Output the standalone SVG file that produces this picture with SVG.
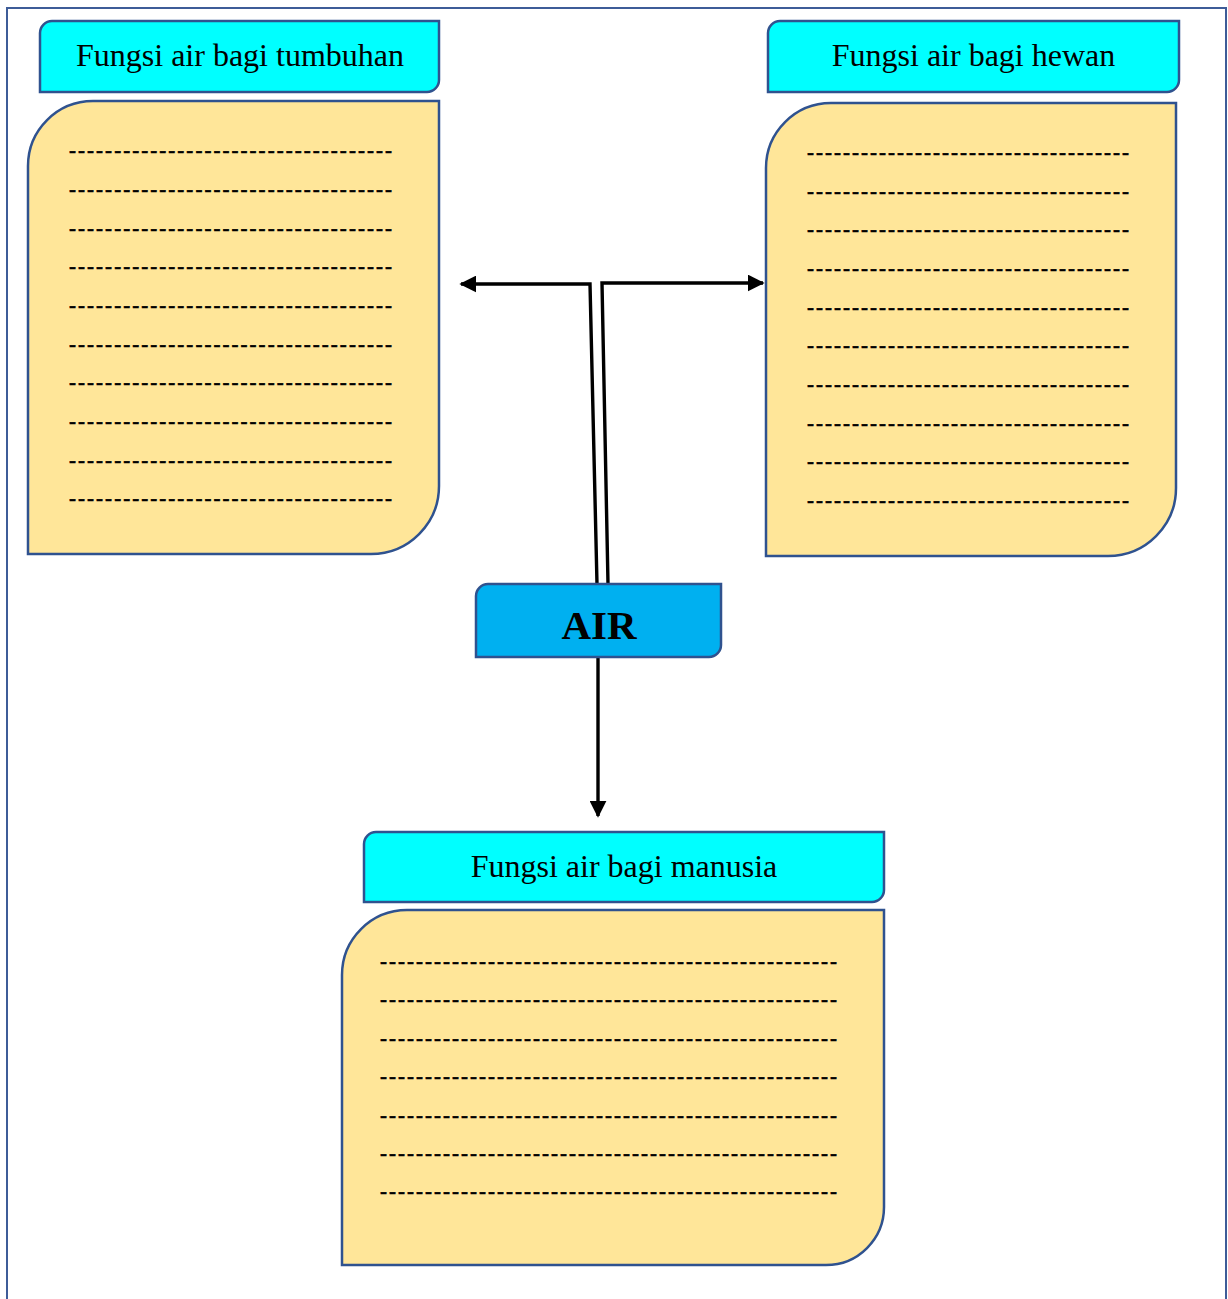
<svg xmlns="http://www.w3.org/2000/svg" width="1228" height="1299" viewBox="0 0 1228 1299">
<style>
.frame{fill:none;stroke:#3E5C98;stroke-width:2}
.hdr{fill:#00FFFF;stroke:#2F528F;stroke-width:2.5}
.body{fill:#FFE699;stroke:#2F528F;stroke-width:2.5}
.air{fill:#00B0F0;stroke:#2F528F;stroke-width:2.5}
.ht{font-family:"Liberation Serif","Times New Roman",serif;font-size:32px;fill:#000;text-anchor:middle}
.at{font-family:"Liberation Serif","Times New Roman",serif;font-size:41px;font-weight:bold;fill:#000;text-anchor:middle}
.dl{font-family:"Liberation Serif","Times New Roman",serif;font-size:21px;font-weight:bold;fill:#000;stroke:#000;stroke-width:0.5}
.con{fill:none;stroke:#000;stroke-width:3.4}
</style>
<defs>
<marker id="ah" viewBox="0 0 10 10" refX="9" refY="5" markerWidth="5" markerHeight="5" markerUnits="strokeWidth" orient="auto" preserveAspectRatio="none">
<path d="M0,0 L10,5 L0,10 Z" fill="#000"/>
</marker>
</defs>
<rect width="1228" height="1299" fill="#fff"/>
<path class="frame" d="M7,1299 L7,8 L1226,8 L1226,1299"/>

<g id="connectors">
<path class="con" d="M597,584 L590,284 L461,284" marker-end="url(#ah)"/>
<path class="con" d="M608,584 L602,283 L763,283" marker-end="url(#ah)"/>
<path class="con" d="M598,657 L598,816" marker-end="url(#ah)"/>
</g>

<g id="tumbuhan">
<path class="hdr" d="M40,33 A12,12 0 0 1 52,21 L439,21 L439,80 A12,12 0 0 1 427,92 L40,92 Z"/>
<text class="ht" x="240" y="66">Fungsi air bagi tumbuhan</text>
<path class="body" d="M28,166 A65,65 0 0 1 93,101 L439,101 L439,486 A68,68 0 0 1 371,554 L28,554 Z"/>
<g class="dl">
<text x="69" y="157" textLength="323" lengthAdjust="spacing">------------------------------------</text>
<text x="69" y="196" textLength="323" lengthAdjust="spacing">------------------------------------</text>
<text x="69" y="235" textLength="323" lengthAdjust="spacing">------------------------------------</text>
<text x="69" y="273" textLength="323" lengthAdjust="spacing">------------------------------------</text>
<text x="69" y="312" textLength="323" lengthAdjust="spacing">------------------------------------</text>
<text x="69" y="351" textLength="323" lengthAdjust="spacing">------------------------------------</text>
<text x="69" y="389" textLength="323" lengthAdjust="spacing">------------------------------------</text>
<text x="69" y="428" textLength="323" lengthAdjust="spacing">------------------------------------</text>
<text x="69" y="467" textLength="323" lengthAdjust="spacing">------------------------------------</text>
<text x="69" y="505" textLength="323" lengthAdjust="spacing">------------------------------------</text>
</g>
</g>

<g id="hewan">
<path class="hdr" d="M768,33 A12,12 0 0 1 780,21 L1179,21 L1179,80 A12,12 0 0 1 1167,92 L768,92 Z"/>
<text class="ht" x="973.5" y="66">Fungsi air bagi hewan</text>
<path class="body" d="M766,168 A65,65 0 0 1 831,103 L1176,103 L1176,488 A68,68 0 0 1 1108,556 L766,556 Z"/>
<g class="dl">
<text x="807" y="159" textLength="322" lengthAdjust="spacing">------------------------------------</text>
<text x="807" y="198" textLength="322" lengthAdjust="spacing">------------------------------------</text>
<text x="807" y="236" textLength="322" lengthAdjust="spacing">------------------------------------</text>
<text x="807" y="275" textLength="322" lengthAdjust="spacing">------------------------------------</text>
<text x="807" y="314" textLength="322" lengthAdjust="spacing">------------------------------------</text>
<text x="807" y="352" textLength="322" lengthAdjust="spacing">------------------------------------</text>
<text x="807" y="391" textLength="322" lengthAdjust="spacing">------------------------------------</text>
<text x="807" y="430" textLength="322" lengthAdjust="spacing">------------------------------------</text>
<text x="807" y="468" textLength="322" lengthAdjust="spacing">------------------------------------</text>
<text x="807" y="507" textLength="322" lengthAdjust="spacing">------------------------------------</text>
</g>
</g>

<g id="air">
<path class="air" d="M476,596 A12,12 0 0 1 488,584 L721,584 L721,645 A12,12 0 0 1 709,657 L476,657 Z"/>
<text class="at" x="599" y="639">AIR</text>
</g>

<g id="manusia">
<path class="hdr" d="M364,844 A12,12 0 0 1 376,832 L884,832 L884,890 A12,12 0 0 1 872,902 L364,902 Z"/>
<text class="ht" x="624" y="877">Fungsi air bagi manusia</text>
<path class="body" d="M342,975 A65,65 0 0 1 407,910 L884,910 L884,1207 A58,58 0 0 1 826,1265 L342,1265 Z"/>
<g class="dl">
<text x="380" y="968" textLength="457" lengthAdjust="spacing">---------------------------------------------------</text>
<text x="380" y="1006" textLength="457" lengthAdjust="spacing">---------------------------------------------------</text>
<text x="380" y="1045" textLength="457" lengthAdjust="spacing">---------------------------------------------------</text>
<text x="380" y="1083" textLength="457" lengthAdjust="spacing">---------------------------------------------------</text>
<text x="380" y="1122" textLength="457" lengthAdjust="spacing">---------------------------------------------------</text>
<text x="380" y="1160" textLength="457" lengthAdjust="spacing">---------------------------------------------------</text>
<text x="380" y="1198" textLength="457" lengthAdjust="spacing">---------------------------------------------------</text>
</g>
</g>
</svg>
